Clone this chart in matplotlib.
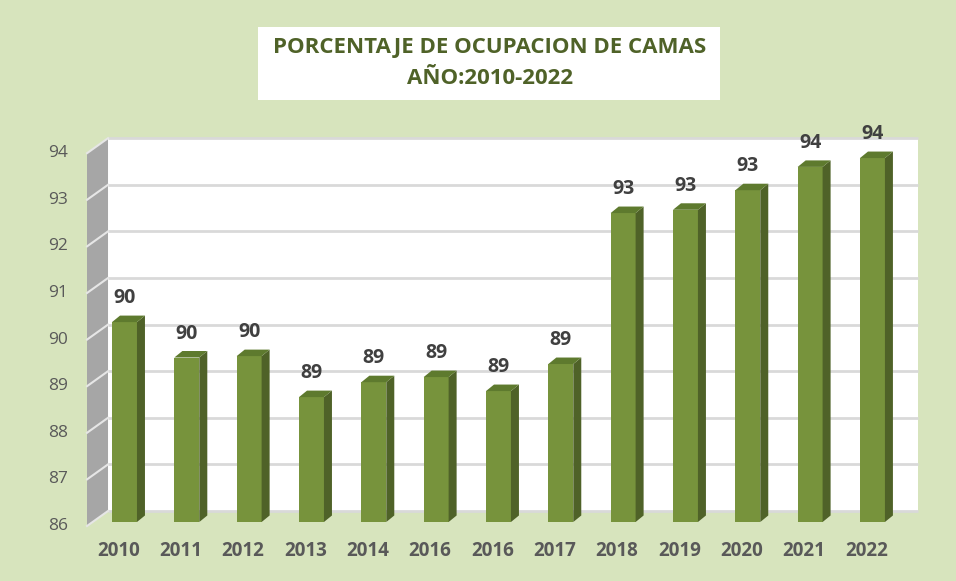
import matplotlib
matplotlib.use("Agg")
import matplotlib.pyplot as plt
from matplotlib.patches import Polygon, Rectangle

# datos
years = ["2010", "2011", "2012", "2013", "2014", "2016", "2016",
         "2017", "2018", "2019", "2020", "2021", "2022"]
values = [90.29, 89.53, 89.56, 88.68, 89.00, 89.11, 88.81,
          89.39, 92.63, 92.70, 93.12, 93.62, 93.81]
y_ticks = [86, 87, 88, 89, 90, 91, 92, 93, 94]
title = "PORCENTAJE DE OCUPACION DE CAMAS\nAÑO:2010-2022"

plt.rcParams['font.family'] = ['Open Sans', 'DejaVu Sans']

BG = '#D7E4BD'
FRONT = '#77933C'
SIDE = '#4F6228'
TOP = '#5E7A2E'

W, H = 956, 581
fig = plt.figure(figsize=(W / 100, H / 100), dpi=100)
fig.patch.set_facecolor(BG)

# escala en pixeles para el efecto 3D
px_x = 62.33
px_y = 46.6
x0_px = 124.5
base_px = 522
ax = fig.add_axes([0, 0, 1, 1])
ax.set_xlim(-x0_px / px_x, (W - x0_px) / px_x)
ax.set_ylim(y_ticks[0] - (H - base_px) / px_y, y_ticks[0] + base_px / px_y)
ax.axis('off')

ymin, ymax = y_ticks[0], y_ticks[-1]
x_left, x_right = -0.51, 12.49
dxb, dyb = 15.3 / px_x, 11 / px_y     # pared del fondo
dxf, dyf = -5.7 / px_x, -4 / px_y     # borde frontal
bdx, bdy = 8 / px_x, 6.5 / px_y       # profundidad de la barra
half = 0.2

# pared del fondo
ax.add_patch(Rectangle((x_left + dxb, ymin + dyb), x_right - x_left, ymax - ymin,
                       facecolor='white', edgecolor='none', zorder=1))
for v in y_ticks:
    ax.plot([x_left + dxb, x_right + dxb], [v + dyb, v + dyb],
            color='#D9D9D9', lw=2, zorder=2, solid_capstyle='butt')

# pared lateral
ax.add_patch(Polygon([(x_left + dxf, ymin + dyf), (x_left + dxb, ymin + dyb),
                      (x_left + dxb, ymax + dyb), (x_left + dxf, ymax + dyf)],
                     closed=True, facecolor='#A6A6A6', edgecolor='none', zorder=2))
for v in y_ticks:
    ax.plot([x_left + dxf, x_left + dxb], [v + dyf, v + dyb],
            color='#E6E6E6', lw=1.5, zorder=3)
    ax.text(x_left + dxf - 19 / px_x, v + dyf, str(v), ha='right', va='center',
            fontsize=12.5, color='#595959')

# barras
for i, v in enumerate(values):
    ax.add_patch(Rectangle((i - half, ymin), 2 * half, v - ymin,
                           facecolor=FRONT, edgecolor='none', zorder=5))
    ax.add_patch(Polygon([(i + half, ymin), (i + half + bdx, ymin + bdy),
                          (i + half + bdx, v + bdy), (i + half, v)],
                         closed=True, facecolor=SIDE, edgecolor='none', zorder=5))
    ax.add_patch(Polygon([(i - half, v), (i - half + bdx, v + bdy),
                          (i + half + bdx, v + bdy), (i + half, v)],
                         closed=True, facecolor=TOP, edgecolor='none', zorder=5))
    ax.text(i, v + 24 / px_y, f"{v:.0f}", ha='center', va='center',
            fontsize=14, fontweight='bold', color='#404040', zorder=6)
    ax.text(i - 0.1, ymin - 29 / px_y, years[i], ha='center', va='center',
            fontsize=13.5, fontweight='bold', color='#595959')

# titulo
fig.patches.append(Rectangle((258 / W, 1 - 100 / H), 462 / W, 73 / H,
                             transform=fig.transFigure, facecolor='white',
                             edgecolor='none'))
line1, line2 = title.split("\n")
fig.text(490 / W, 1 - 48 / H, line1, ha='center', va='center',
         fontsize=16, fontweight='bold', color='#4F6228')
fig.text(490 / W, 1 - 78 / H, line2, ha='center', va='center',
         fontsize=16, fontweight='bold', color='#4F6228')

fig.savefig("out.png", dpi=100, facecolor=BG)
